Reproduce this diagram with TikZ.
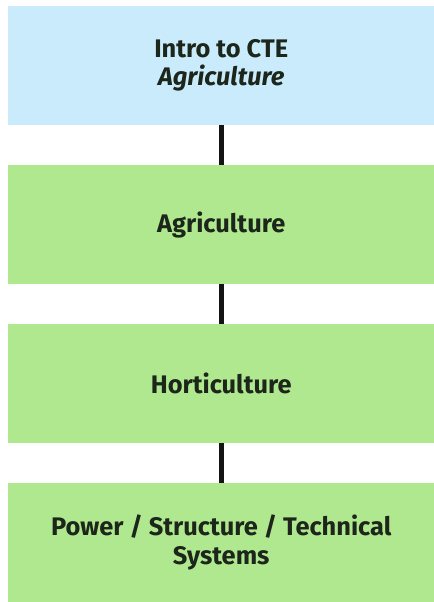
\documentclass[tikz,border=0pt]{standalone}
\usepackage{fontspec}
\setmainfont{Fira Sans}
\usetikzlibrary{positioning}
\definecolor{introblue}{HTML}{C9EBFB}
\definecolor{pathgreen}{HTML}{B0E88F}
\definecolor{labeltext}{HTML}{1C261A}
\begin{document}
\begin{tikzpicture}[
        course/.style={fill=pathgreen, minimum width=426bp, minimum height=119bp,
            inner sep=0pt, align=center, text=labeltext,
            font=\fontsize{25.5}{28}\selectfont\bfseries},
        link/.style={line width=5bp, draw=black!92}]
    \useasboundingbox (0,0) rectangle (434bp,-602bp);
    \node[course, fill=introblue, anchor=north west] (intro) at (8bp,-6bp) {Intro to CTE\\\textit{Agriculture}};
    \node[course, below=39.5bp of intro] (agri) {Agriculture};
    \node[course, below=39.5bp of agri] (horti) {Horticulture};
    \node[course, below=39.5bp of horti] (power) {Power / Structure / Technical\\[2bp]Systems};
    \draw[link] (intro) -- (agri);
    \draw[link] (agri) -- (horti);
    \draw[link] (horti) -- (power);
\end{tikzpicture}
\end{document}
